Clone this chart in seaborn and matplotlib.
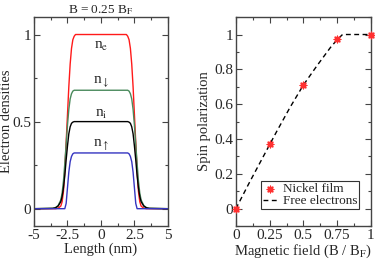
import numpy as np
import pandas as pd
import matplotlib
matplotlib.use("Agg")
import matplotlib.pyplot as plt
import seaborn as sns
from matplotlib.ticker import MultipleLocator

# ---------------- data ----------------
length_nm = [-5.0, -3.6, -3.4, -3.2, -3.0, -2.9, -2.8, -2.7, -2.6, -2.5, -2.4, -2.3, -2.2, -2.1, -2.0, -1.9, -1.7,
             1.7, 1.9, 2.0, 2.1, 2.2, 2.3, 2.4, 2.5, 2.6, 2.7, 2.8, 2.9, 3.0, 3.2, 3.4, 3.6, 5.0]
n_e = [0.0, 0.0, 0.0, 0.003, 0.015, 0.04, 0.10, 0.22, 0.38, 0.54, 0.70, 0.83, 0.92, 0.97, 0.99, 1.0, 1.0,
       1.0, 1.0, 0.99, 0.97, 0.92, 0.83, 0.70, 0.54, 0.38, 0.22, 0.10, 0.04, 0.015, 0.003, 0.0, 0.0, 0.0]
n_down = [0.0, 0.002, 0.006, 0.018, 0.05, 0.09, 0.16, 0.26, 0.37, 0.48, 0.57, 0.63, 0.66, 0.675, 0.68, 0.68, 0.68,
          0.68, 0.68, 0.68, 0.675, 0.66, 0.63, 0.57, 0.48, 0.37, 0.26, 0.16, 0.09, 0.05, 0.018, 0.006, 0.002, 0.0]
n_i = [0.0, 0.002, 0.005, 0.015, 0.04, 0.07, 0.12, 0.19, 0.28, 0.36, 0.43, 0.47, 0.49, 0.497, 0.5, 0.5, 0.5,
       0.5, 0.5, 0.5, 0.497, 0.49, 0.47, 0.43, 0.36, 0.28, 0.19, 0.12, 0.07, 0.04, 0.015, 0.005, 0.002, 0.0]
n_up = [0.0, 0.0, 0.0, 0.0, 0.0, 0.0, 0.0, 0.0, 0.03, 0.12, 0.21, 0.27, 0.30, 0.315, 0.32, 0.32, 0.32,
        0.32, 0.32, 0.32, 0.315, 0.30, 0.27, 0.21, 0.12, 0.03, 0.0, 0.0, 0.0, 0.0, 0.0, 0.0, 0.0, 0.0]

field_nickel = [0.0, 0.25, 0.5, 0.75, 1.0]
pol_nickel = [0.0, 0.37, 0.71, 0.975, 1.0]

field_free = [0.0, 0.05, 0.1, 0.2, 0.3, 0.4, 0.5, 0.6, 0.7, 0.75, 0.79, 0.85, 1.0]
pol_free = [0.0, 0.075, 0.15, 0.295, 0.44, 0.58, 0.71, 0.82, 0.925, 0.97, 1.0, 1.0, 1.0]

# ---------------- style ----------------
sns.set_theme(style="ticks")
plt.rcParams["font.family"] = ["Liberation Serif", "DejaVu Serif"]
plt.rcParams["mathtext.fontset"] = "stix"
plt.rcParams["axes.unicode_minus"] = False

fig = plt.figure(figsize=(3.75, 2.59), dpi=100)
ax1 = fig.add_axes([0.0907, 0.127, 0.357, 0.807])
ax2 = fig.add_axes([0.629, 0.127, 0.360, 0.807])

dens = pd.DataFrame({"x": length_nm * 4,
                     "y": n_e + n_down + n_i + n_up,
                     "curve": ["ne"] * len(n_e) + ["nd"] * len(n_down) + ["ni"] * len(n_i) + ["nu"] * len(n_up)})
palette = {"ne": "#ff1a1a", "nd": "#4a8a5c", "ni": "#000000", "nu": "#3535c0"}
sns.lineplot(data=dens, x="x", y="y", hue="curve", palette=palette, ax=ax1, legend=False,
             linewidth=1.0, sort=False, estimator=None)

ax1.set_xlim(-5, 5)
ax1.set_ylim(-0.1, 1.1)
ax1.set_xticks([-5, -2.5, 0, 2.5, 5])
ax1.set_xticklabels(["-5", "-2.5", "0", "2.5", "5"])
ax1.xaxis.set_minor_locator(MultipleLocator(1.25))
ax1.set_yticks([0, 0.5, 1])
ax1.set_yticklabels(["0", "0.5", "1"])
ax1.yaxis.set_minor_locator(MultipleLocator(0.25))
ax1.set_xlabel("Length (nm)", fontsize=10.5)
ax1.set_ylabel("Electron densities", fontsize=10.5)
ax1.xaxis.set_label_coords(0.5, -0.08)
ax1.yaxis.set_label_coords(-0.157, 0.5)
ax1.set_title(r"B = 0.25 B$_\mathrm{F}$", fontsize=9.5, pad=3)

lab_kw = dict(fontsize=11, ha="center", va="center")
ax1.text(0.0, 0.93, r"n$_\mathrm{e}$", **lab_kw)
ax1.text(0.0, 0.73, r"n$_\downarrow$", **lab_kw)
ax1.text(0.0, 0.54, r"n$_\mathrm{i}$", **lab_kw)
ax1.text(0.0, 0.37, r"n$_\uparrow$", **lab_kw)

# right panel
free = pd.DataFrame({"field": field_free, "pol": pol_free})
nick = pd.DataFrame({"field": field_nickel, "pol": pol_nickel})
sns.lineplot(data=free, x="field", y="pol", ax=ax2, color="black", linestyle=(0, (3.5, 2.5)),
             linewidth=1.0, label="Free electrons", sort=False, estimator=None, zorder=2)
sns.scatterplot(data=nick, x="field", y="pol", ax=ax2, color="#ff3030", marker=(8, 2, 0), s=22,
                linewidth=1.0, edgecolor="#ff3030", label="Nickel film", zorder=3, clip_on=False)

ax2.set_xlim(0, 1)
ax2.set_ylim(-0.1, 1.1)
ax2.set_xticks([0, 0.25, 0.5, 0.75, 1])
ax2.set_xticklabels(["0", "0.25", "0.5", "0.75", "1"])
ax2.xaxis.set_minor_locator(MultipleLocator(0.125))
ax2.set_yticks([0, 0.2, 0.4, 0.6, 0.8, 1])
ax2.set_yticklabels(["0", "0.2", "0.4", "0.6", "0.8", "1"])
ax2.yaxis.set_minor_locator(MultipleLocator(0.1))
ax2.set_xlabel(r"Magnetic field (B / B$_\mathrm{F}$)", fontsize=10.5)
ax2.set_ylabel("Spin polarization", fontsize=10.5)
ax2.xaxis.set_label_coords(0.5, -0.08)
ax2.yaxis.set_label_coords(-0.185, 0.5)

handles, labels = ax2.get_legend_handles_labels()
order = [labels.index("Nickel film"), labels.index("Free electrons")]
leg = ax2.legend([handles[i] for i in order], [labels[i] for i in order],
                 loc="lower right", bbox_to_anchor=(0.915, 0.08), fontsize=9.5, frameon=True, fancybox=False,
                 edgecolor="#333333", framealpha=1, borderpad=0.15, handlelength=1.1, handletextpad=0.4,
                 labelspacing=0.0, borderaxespad=0)
leg.get_frame().set_linewidth(0.8)

for ax in (ax1, ax2):
    ax.tick_params(which="both", direction="in", top=True, right=True, labelsize=11, pad=2,
                   color="#444444")
    ax.tick_params(which="major", length=4, width=0.8)
    ax.tick_params(which="minor", length=2, width=0.8)
    for s in ax.spines.values():
        s.set_linewidth(1.0)
        s.set_color("#444444")

fig.savefig("out.png", dpi=100)
